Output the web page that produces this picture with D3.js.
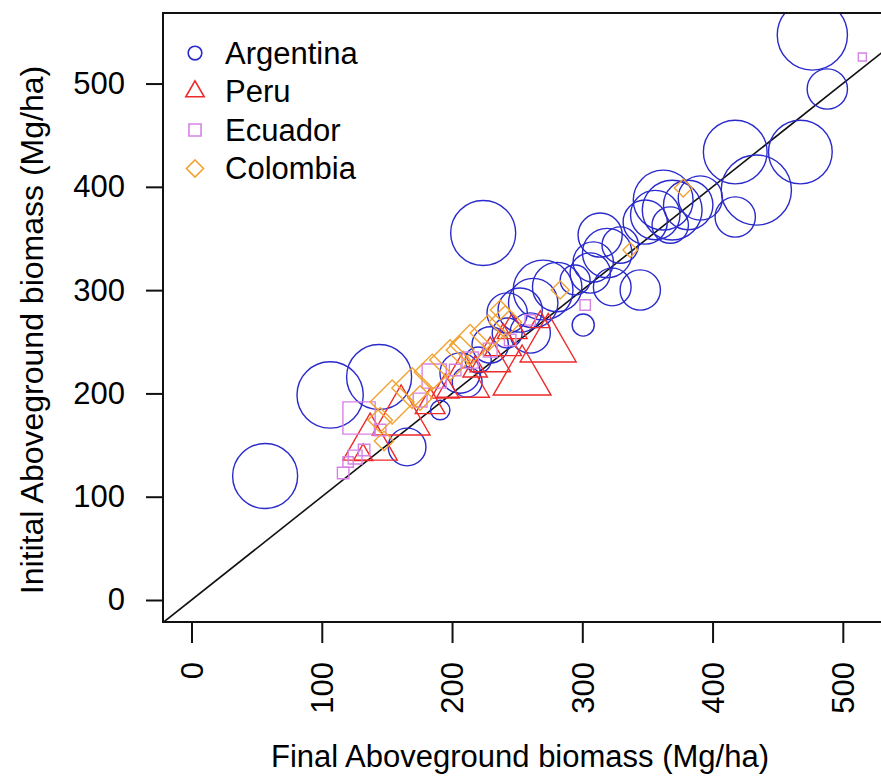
<!DOCTYPE html>
<html>
<head>
<meta charset="utf-8">
<script src="https://d3js.org/d3.v7.min.js"></script>
<style>
  body { margin: 0; background: #fff; }
  text { font-family: "Liberation Sans", Arial, Helvetica, sans-serif; fill: #000; }
</style>
</head>
<body>
<div id="my_dataviz"></div>
<script>

// data: final biomass, initial biomass, symbol size (cex)
var argFinal   = [56.5,106.4,144.0,165.5,190.9,223.9,476.6,488.1,417.4,467.4,433.6,417.4,344.5,323.0,300.7,269.9,280.7,262.3,252.3,242.3,260.0,242.3,206.2,211.6,362.1,369.0,356.0,381.3,348.3,390.6,367.5,313.7,319.1,308.4,329.1,306.1,294.5,229.3,220.1];
var argInitial = [120.0,198.5,215.9,148.1,183.9,355.3,547.0,494.7,433.7,433.7,396.9,370.8,300.1,303.0,266.2,300.1,303.0,287.5,280.7,277.8,258.5,258.5,219.7,211.0,387.2,377.5,372.7,382.4,365.9,389.2,363.0,353.3,335.9,327.2,343.6,316.6,309.8,246.9,232.3];
var argSize    = [5.0,5.1,5.0,2.9,1.5,5.0,5.4,3.1,4.9,4.9,5.4,3.1,3.1,2.9,1.7,4.6,3.8,3.8,3.4,3.1,3.1,2.3,3.1,2.3,4.6,4.6,3.8,3.8,3.4,3.4,2.8,3.4,3.8,3.1,2.8,3.1,2.3,2.8,2.0];

var peruFinal   = [137.1,160.9,253.8,273.8,208.5,229.3,239.2,246.2,183.2,131.7,267.7,217.7,194.7];
var peruInitial = [150.6,175.9,214.6,246.1,211.0,232.3,246.9,261.4,188.8,140.4,269.1,222.7,203.3];
var peruSize    = [3.1,3.3,3.3,3.2,3.0,2.3,2.1,1.7,1.7,1.1,1.1,1.4,1.6];

var ecuFinal   = [128.6,116.4,125.6,132.5,186.3,515.0,302.2,213.9,229.3,244.6,175.5,202.4,260.0,144.8,120.2];
var ecuInitial = [176.2,122.9,138.4,145.2,216.8,525.7,285.6,232.3,242.0,251.7,193.6,222.7,271.1,164.6,133.6];
var ecuSize    = [2.8,1.0,1.2,1.0,2.1,0.7,0.9,1.4,1.2,1.0,1.2,1.0,0.9,1.0,0.9];

var colFinal   = [154.0,169.4,184.7,198.5,213.9,227.7,240.8,144.8,377.5,336.8,283.0,175.5,206.2,147.8,236.9];
var colInitial = [191.7,205.2,220.7,232.3,246.9,258.5,269.1,174.2,398.8,338.8,300.1,195.5,242.0,153.9,280.7];
var colSize    = [2.7,2.5,2.2,2.5,2.5,2.2,2.0,1.5,1.1,0.9,1.1,1.5,1.7,1.2,1.2];

var countries = ["Argentina", "Peru", "Ecuador", "Colombia"];
var shapes    = ["circle", "triangle", "square", "diamond"];
var colors    = ["#2a2acc", "#ee2a2a", "#d683e6", "#f2a230"];
var xTicks = [0, 100, 200, 300, 400, 500];
var yTicks = [0, 100, 200, 300, 400, 500];

var groups = [
  {final: argFinal,  initial: argInitial,  size: argSize},
  {final: peruFinal, initial: peruInitial, size: peruSize},
  {final: ecuFinal,  initial: ecuInitial,  size: ecuSize},
  {final: colFinal,  initial: colInitial,  size: colSize}
];

var W = 881, H = 777;
var plot = {left: 163, top: 13, bottom: 622, right: 934};

var svg = d3.select("#my_dataviz")
  .append("svg")
    .attr("width", W)
    .attr("height", H);

var x = d3.scaleLinear().domain([-21.9, 570]).range([plot.left, plot.right]);
var y = d3.scaleLinear().domain([-21.3, 568.3]).range([plot.bottom, plot.top]);
// symbol radius in pixels per cex unit
var rScale = d3.scaleLinear().domain([0, 1]).range([0, 6.5]);

// R-like symbol outlines around (0,0)
function symbolPath(shape, R) {
  var p = d3.path();
  if (shape == "triangle") {
    var hb = 1.347 * R, up = 1.555 * R, dn = 0.778 * R;
    p.moveTo(0, -up); p.lineTo(hb, dn); p.lineTo(-hb, dn); p.closePath();
  } else if (shape == "square") {
    var s = 0.886 * R;
    p.rect(-s, -s, 2 * s, 2 * s);
  } else if (shape == "diamond") {
    var d = 1.253 * R;
    p.moveTo(0, -d); p.lineTo(d, 0); p.lineTo(0, d); p.lineTo(-d, 0); p.closePath();
  } else {
    p.arc(0, 0, R, 0, 2 * Math.PI);
  }
  return p.toString();
}

svg.append("clipPath").attr("id", "plotclip")
  .append("rect")
    .attr("x", plot.left).attr("y", plot.top)
    .attr("width", plot.right - plot.left).attr("height", plot.bottom - plot.top);

var inner = svg.append("g").attr("clip-path", "url(#plotclip)");

// 1:1 line
inner.append("line")
  .attr("x1", x(-30)).attr("y1", y(-30))
  .attr("x2", x(600)).attr("y2", y(600))
  .attr("stroke", "#111")
  .attr("stroke-width", 1.6);

groups.forEach(function(g, gi) {
  var pts = g.final.map(function(v, i) { return {fx: v, iy: g.initial[i], cex: g.size[i]}; });
  inner.append("g").selectAll("path")
    .data(pts)
    .enter().append("path")
      .attr("transform", function(d) { return "translate(" + x(d.fx) + "," + y(d.iy) + ")"; })
      .attr("d", function(d) { return symbolPath(shapes[gi], rScale(d.cex)); })
      .attr("fill", "none")
      .attr("stroke", colors[gi])
      .attr("stroke-width", 1.4);
});

// box
svg.append("rect")
  .attr("x", plot.left).attr("y", plot.top)
  .attr("width", plot.right - plot.left).attr("height", plot.bottom - plot.top)
  .attr("fill", "none")
  .attr("stroke", "#111")
  .attr("stroke-width", 2);

// axes
var yAxis = svg.append("g")
  .attr("transform", "translate(" + plot.left + ",0)")
  .call(d3.axisLeft(y).tickValues(yTicks).tickSize(17).tickPadding(21).tickFormat(d3.format("d")));
var xAxis = svg.append("g")
  .attr("transform", "translate(0," + plot.bottom + ")")
  .call(d3.axisBottom(x).tickValues(xTicks).tickSize(21).tickFormat(d3.format("d")));

[xAxis, yAxis].forEach(function(a) {
  a.select(".domain").remove();
  a.selectAll("line").attr("stroke", "#111").attr("stroke-width", 2);
  a.selectAll("text").attr("font-size", "31px").attr("font-family", null).attr("fill", "#111");
});
xAxis.selectAll("text")
  .attr("transform", "rotate(-90)")
  .attr("x", -40)
  .attr("y", 0)
  .attr("dy", "0.35em")
  .style("text-anchor", "end");

// axis titles
svg.append("text")
  .attr("x", 520).attr("y", 767)
  .attr("text-anchor", "middle")
  .attr("font-size", "31px")
  .text("Final Aboveground biomass (Mg/ha)");
svg.append("text")
  .attr("transform", "translate(43,330) rotate(-90)")
  .attr("text-anchor", "middle")
  .attr("font-size", "32px")
  .text("Initital Aboveground biomass (Mg/ha)");

// legend
var legend = svg.append("g").selectAll("g")
  .data(countries)
  .enter().append("g")
    .attr("transform", function(d, i) { return "translate(195," + (53 + i * 38.5) + ")"; });
legend.append("path")
  .attr("d", function(d, i) { return symbolPath(shapes[i], rScale(1.05)); })
  .attr("fill", "none")
  .attr("stroke", function(d, i) { return colors[i]; })
  .attr("stroke-width", 1.6);
legend.append("text")
  .attr("x", 30)
  .attr("dy", "0.35em")
  .attr("font-size", "31px")
  .text(function(d) { return d; });

</script>
</body>
</html>
